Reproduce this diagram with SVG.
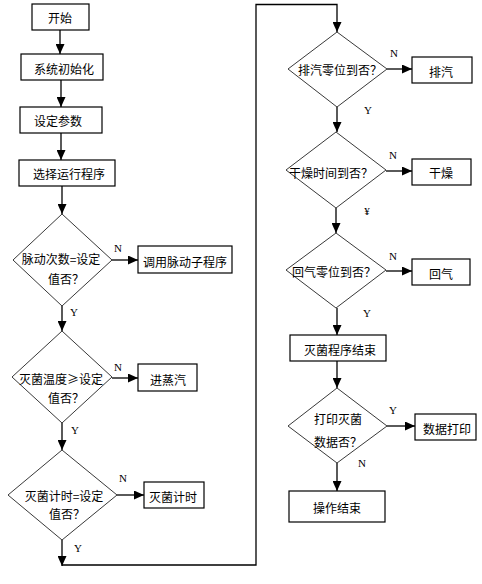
<svg xmlns="http://www.w3.org/2000/svg" width="482" height="584" viewBox="0 0 482 584">
<style>
rect.b{fill:#fff;stroke:#000;stroke-width:1.2}
polygon.d{fill:#fff;stroke:#222;stroke-width:0.9}
text{font-family:"Noto Sans CJK SC","Noto Sans",sans-serif;font-size:12px;fill:#000;text-anchor:middle;dominant-baseline:central}
text.l{font-family:"Liberation Serif",serif;font-size:11px}
.c{fill:none;stroke:#000;stroke-width:1.3}
</style>
<defs>
<marker id="ah" markerUnits="userSpaceOnUse" markerWidth="10" markerHeight="9" refX="10" refY="4.5" orient="auto">
<path d="M0,0 L10,4.5 L0,9 z" fill="#000"/>
</marker>
</defs>
<rect width="482" height="584" fill="#fff"/>
<g id="connectors">
<path class="c" d="M60,30 V54" marker-end="url(#ah)"/>
<path class="c" d="M61,80 V107" marker-end="url(#ah)"/>
<path class="c" d="M61,133 V160" marker-end="url(#ah)"/>
<path class="c" d="M62,186 V214" marker-end="url(#ah)"/>
<path class="c" d="M112,260 H138" marker-end="url(#ah)"/>
<path class="c" d="M62,306 V331" marker-end="url(#ah)"/>
<path class="c" d="M112,378 H138" marker-end="url(#ah)"/>
<path class="c" d="M62,423 V450" marker-end="url(#ah)"/>
<path class="c" d="M117,495 H144" marker-end="url(#ah)"/>
<path class="c" d="M62,540 V566" marker-end="url(#ah)"/>
<path class="c" d="M62,565 H256 V4.5 H337 V32" marker-end="url(#ah)"/>
<path class="c" d="M387,69 H412" marker-end="url(#ah)"/>
<path class="c" d="M337,107 V132" marker-end="url(#ah)"/>
<path class="c" d="M386,171 H412" marker-end="url(#ah)"/>
<path class="c" d="M336,208 V233" marker-end="url(#ah)"/>
<path class="c" d="M386,271 H412" marker-end="url(#ah)"/>
<path class="c" d="M337,308 V335" marker-end="url(#ah)"/>
<path class="c" d="M337,361 V388" marker-end="url(#ah)"/>
<path class="c" d="M387,426 H415" marker-end="url(#ah)"/>
<path class="c" d="M337,463 V491" marker-end="url(#ah)"/>
<text class="l" x="118" y="248">N</text>
<text class="l" x="74" y="312">Y</text>
<text class="l" x="118" y="367">N</text>
<text class="l" x="75" y="430">Y</text>
<text class="l" x="123" y="478">N</text>
<text class="l" x="78" y="548">Y</text>
<text class="l" x="394" y="53">N</text>
<text class="l" x="368" y="110">Y</text>
<text class="l" x="393" y="155">N</text>
<text class="l" x="367" y="211">¥</text>
<text class="l" x="393" y="256">N</text>
<text class="l" x="367" y="313">Y</text>
<text class="l" x="393" y="410">Y</text>
<text class="l" x="362" y="463">N</text>
</g>
<g id="start"><rect class="b" x="32" y="4" width="57" height="26"/><text x="60" y="17">开始</text></g>
<g id="init"><rect class="b" x="21" y="54" width="82" height="26"/><text x="64" y="68">系统初始化</text></g>
<g id="params"><rect class="b" x="20" y="107" width="82" height="26"/><text x="58" y="120">设定参数</text></g>
<g id="select"><rect class="b" x="19" y="160" width="96" height="26"/><text x="69" y="173">选择运行程序</text></g>
<g id="d-pulse"><polygon class="d" points="62,214 112,260 62,306 13,260"/><text x="61" y="258">脉动次数=设定</text><text x="66" y="278">值否？</text></g>
<g id="call-pulse"><rect class="b" x="138" y="246" width="94" height="27"/><text x="185" y="261">调用脉动子程序</text></g>
<g id="d-temp"><polygon class="d" points="62,331 112,377 62,423 12,377"/><text x="61" y="378">灭菌温度≥设定</text><text x="66" y="397">值否？</text></g>
<g id="steam"><rect class="b" x="138" y="364" width="59" height="27"/><text x="168" y="379">进蒸汽</text></g>
<g id="d-time"><polygon class="d" points="62,450 117,495 62,540 8,495"/><text x="64" y="495">灭菌计时=设定</text><text x="67" y="513">值否？</text></g>
<g id="timing"><rect class="b" x="144" y="482" width="60" height="26"/><text x="173" y="496">灭菌计时</text></g>
<g id="d-exhaust"><polygon class="d" points="337,32 387,69 337,107 288,69"/><text x="340" y="69">排汽零位到否？</text></g>
<g id="exhaust"><rect class="b" x="412" y="57" width="60" height="26"/><text x="441" y="71">排汽</text></g>
<g id="d-dry"><polygon class="d" points="336,132 386,170 336,208 286,170"/><text x="331" y="172">干燥时间到否？</text></g>
<g id="dry"><rect class="b" x="412" y="159" width="59" height="26"/><text x="441" y="172">干燥</text></g>
<g id="d-return"><polygon class="d" points="336,233 386,270 336,308 286,270"/><text x="334" y="271">回气零位到否？</text></g>
<g id="return"><rect class="b" x="412" y="259" width="58" height="26"/><text x="441" y="273">回气</text></g>
<g id="end-steril"><rect class="b" x="290" y="335" width="96" height="26"/><text x="340" y="349">灭菌程序结束</text></g>
<g id="d-print"><polygon class="d" points="337,388 387,426 337,463 288,426"/><text x="338" y="418">打印灭菌</text><text x="338" y="441">数据否？</text></g>
<g id="print"><rect class="b" x="415" y="414" width="61" height="26"/><text x="447" y="428">数据打印</text></g>
<g id="finish"><rect class="b" x="289" y="491" width="96" height="31"/><text x="337" y="507">操作结束</text></g>
</svg>
